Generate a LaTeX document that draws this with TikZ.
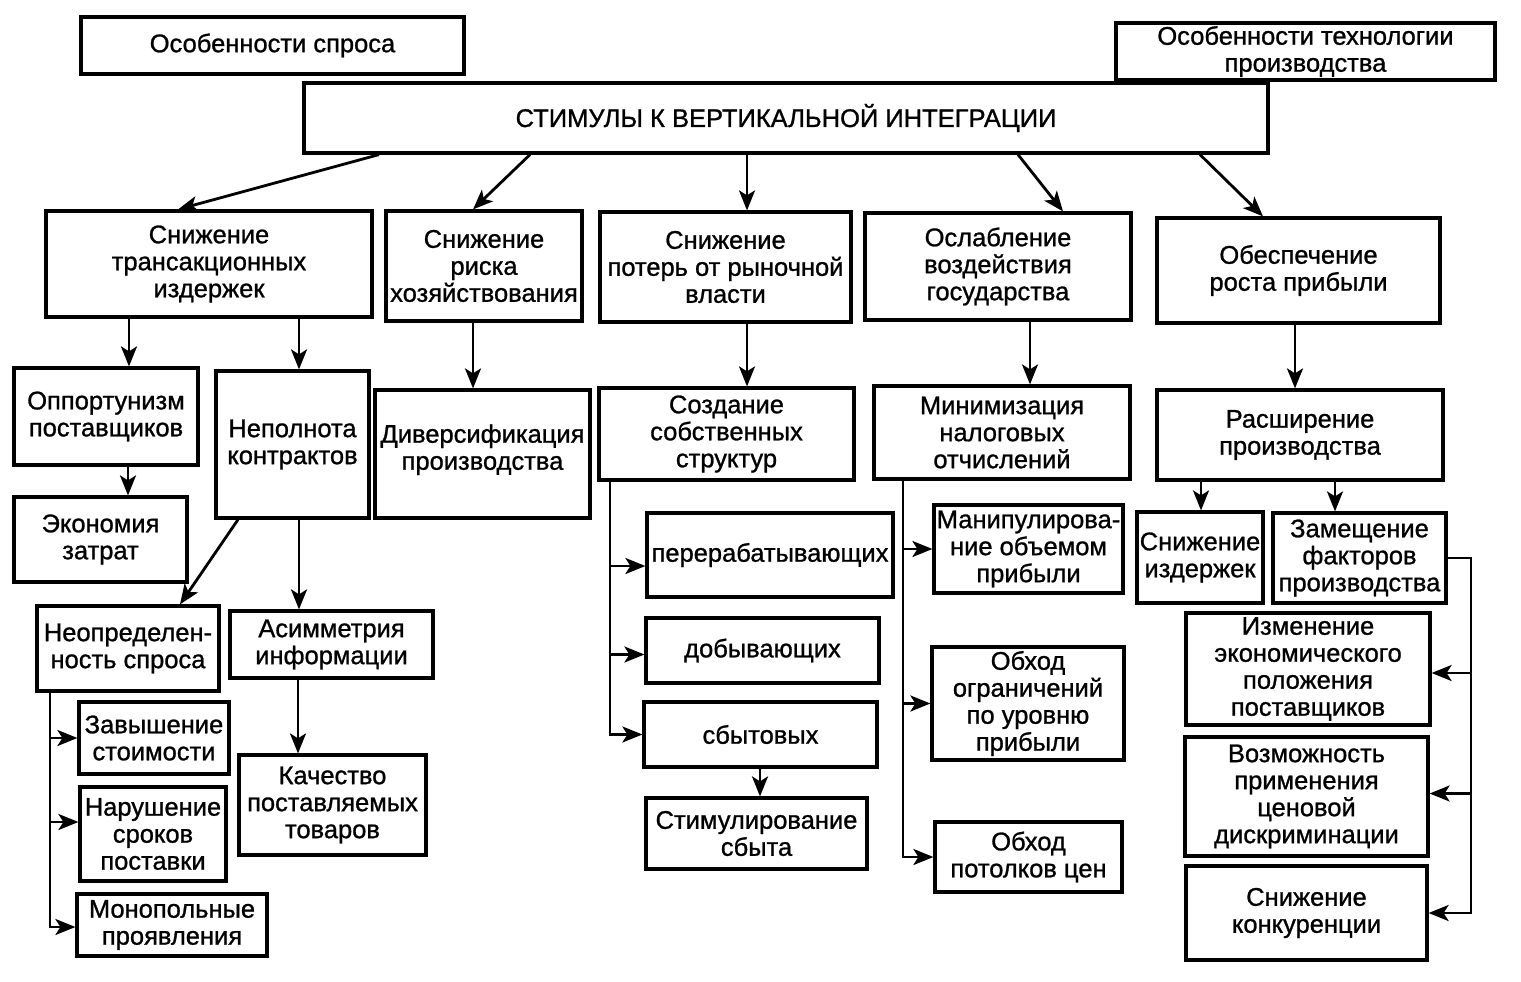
\documentclass[tikz,border=0pt]{standalone}
\usepackage{fontspec}
\setmainfont{Liberation Sans}
\newfontfamily\boxfont[FakeBold=1.0]{Liberation Sans}
\usetikzlibrary{arrows.meta}
\tikzset{
  bx/.style={draw, line width=3.2pt, inner sep=0pt, align=center,
    font=\boxfont\fontsize{25.5}{27}\selectfont},
  arr/.style={line width=2.8pt, -{Stealth[length=20pt,width=16pt,inset=5pt]}},
}
\newcommand\mybox[6]{\node[bx, minimum width=#4pt, minimum height=#5pt] (#1) at (#2,#3) {#6};}
\begin{document}
\begin{tikzpicture}[x=1pt,y=-1pt]
\useasboundingbox (0,0) rectangle (1521,982);
% top
\mybox{spros}{272.5}{45.5}{383}{57}{Особенности спроса}
\mybox{tech}{1305.5}{51.5}{379}{57}{Особенности технологии\\производства}
\mybox{main}{786}{118}{964}{70}{СТИМУЛЫ К ВЕРТИКАЛЬНОЙ ИНТЕГРАЦИИ}
% level 2
\mybox{A}{209}{264}{326}{106}{Снижение\\трансакционных\\издержек}
\mybox{B}{484}{266}{196}{110}{Снижение\\риска\\хозяйствования}
\mybox{C}{725.5}{267}{251}{110}{Снижение\\потерь от рыночной\\власти}
\mybox{D}{998}{266.5}{266}{107}{Ослабление\\воздействия\\государства}
\mybox{E}{1298.5}{270.5}{283}{105}{Обеспечение\\роста прибыли}
% level 3
\mybox{opp}{106}{416.5}{184}{97}{Оппортунизм\\поставщиков}
\mybox{econ}{100.5}{539.5}{173}{85}{Экономия\\затрат}
\mybox{nepol}{292.5}{444.5}{153}{147}{Неполнота\\контрактов}
\mybox{divers}{482.5}{454}{215}{128}{Диверсификация\\производства\\[-13pt]}
\mybox{sozd}{726.5}{434}{255}{92}{Создание\\собственных\\структур}
\mybox{minim}{1002}{432.5}{256}{93}{Минимизация\\налоговых\\отчислений}
\mybox{rassh}{1300}{435}{286}{90}{Расширение\\производства}
% level 4 left
\mybox{neopr}{128}{648.5}{182}{85}{Неопределен-\\ность спроса}
\mybox{asim}{331.5}{644.5}{203}{67}{Асимметрия\\информации}
\mybox{kach}{332.5}{805}{187}{100}{Качество\\поставляемых\\товаров}
\mybox{zav}{154}{738}{150}{72}{Завышение\\стоимости}
\mybox{nar}{153}{834}{146}{94}{Нарушение\\сроков\\поставки}
\mybox{mono}{172}{925}{190}{62}{Монопольные\\проявления}
% middle
\mybox{perer}{770}{555}{246}{84}{перерабатывающих}
\mybox{dob}{762.5}{650.5}{233}{65}{добывающих}
\mybox{sbyt}{760.5}{734.5}{233}{65}{сбытовых}
\mybox{stim}{756.5}{833.5}{221}{71}{Стимулирование\\сбыта}
\mybox{manip}{1028.5}{549}{189}{88}{Манипулирова-\\ние объемом\\прибыли}
\mybox{obh1}{1028}{703.5}{192}{113}{Обход\\ограничений\\по уровню\\прибыли}
\mybox{obh2}{1028.5}{857}{187}{70}{Обход\\потолков цен}
% right
\mybox{snizd}{1200}{557.5}{126}{91}{Снижение\\издержек}
\mybox{zam}{1359.5}{558}{173}{90}{Замещение\\факторов\\производства}
\mybox{izm}{1308}{669}{244}{112}{Изменение\\экономического\\положения\\поставщиков}
\mybox{vozm}{1306.5}{796.5}{243}{119}{Возможность\\применения\\ценовой\\дискриминации}
\mybox{snkon}{1306.5}{913}{241}{94}{Снижение\\конкуренции}

% x positions for connectors
\coordinate (m1) at (379,0);
\coordinate (a1) at (178,0);
\coordinate (m2) at (530,0);
\coordinate (b1) at (473,0);
\coordinate (m3) at (747,0);
\coordinate (m4) at (1018,0);
\coordinate (d1) at (1063,0);
\coordinate (m5) at (1200,0);
\coordinate (e1) at (1263,0);
\coordinate (x129) at (129,0);
\coordinate (x128) at (128,0);
\coordinate (x299) at (299,0);
\coordinate (x298) at (298,0);
\coordinate (x1030) at (1030,0);
\coordinate (x1295) at (1295,0);
\coordinate (x760) at (760,0);
\coordinate (x1201) at (1201,0);
\coordinate (x1335) at (1335,0);
\coordinate (np1) at (238,0);
\coordinate (ne1) at (180,0);
\coordinate (t1) at (50,0);
\coordinate (t2) at (610,0);
\coordinate (t3) at (903,0);
\coordinate (t4) at (1471,0);

% main -> level 2
\draw[arr] (main.south -| m1) -- (A.north -| a1);
\draw[arr] (main.south -| m2) -- (B.north -| b1);
\draw[arr] (main.south -| m3) -- (C.north -| m3);
\draw[arr] (main.south -| m4) -- (D.north -| d1);
\draw[arr] (main.south -| m5) -- (E.north -| e1);
% level 2 -> level 3
\draw[arr] (A.south -| x129) -- (opp.north -| x129);
\draw[arr] (A.south -| x299) -- (nepol.north -| x299);
\draw[arr] (B.south -| b1) -- (divers.north -| b1);
\draw[arr] (C.south -| m3) -- (sozd.north -| m3);
\draw[arr] (D.south -| x1030) -- (minim.north -| x1030);
\draw[arr] (E.south -| x1295) -- (rassh.north -| x1295);
% left
\draw[arr] (opp.south -| x128) -- (econ.north -| x128);
\draw[arr] (nepol.south -| np1) -- (neopr.north -| ne1);
\draw[arr] (nepol.south -| x299) -- (asim.north -| x299);
\draw[arr] (asim.south -| x298) -- (kach.north -| x298);
\draw[arr] (neopr.south -| t1) |- ([yshift=-2pt]mono.west);
\draw[arr] (zav.west -| t1) -- (zav.west);
\draw[arr] ([yshift=12pt]nar.west -| t1) -- ([yshift=12pt]nar.west);
% middle
\draw[arr] (sozd.south -| t2) |- (sbyt.west);
\draw[arr] ([yshift=-11pt]perer.west -| t2) -- ([yshift=-11pt]perer.west);
\draw[arr] ([yshift=-4pt]dob.west -| t2) -- ([yshift=-4pt]dob.west);
\draw[arr] (sbyt.south -| x760) -- (stim.north -| x760);
\draw[arr] (minim.south -| t3) |- (obh2.west);
\draw[arr] (manip.west -| t3) -- (manip.west);
\draw[arr] (obh1.west -| t3) -- (obh1.west);
% right
\draw[arr] (rassh.south -| x1201) -- (snizd.north -| x1201);
\draw[arr] (rassh.south -| x1335) -- (zam.north -| x1335);
\draw[arr] (zam.east) -| (t4 |- snkon.east) -- (snkon.east);
\draw[arr] ([yshift=-4pt]izm.east -| t4) -- ([yshift=-4pt]izm.east);
\draw[arr] ([yshift=3pt]vozm.east -| t4) -- ([yshift=3pt]vozm.east);
\end{tikzpicture}
\end{document}
